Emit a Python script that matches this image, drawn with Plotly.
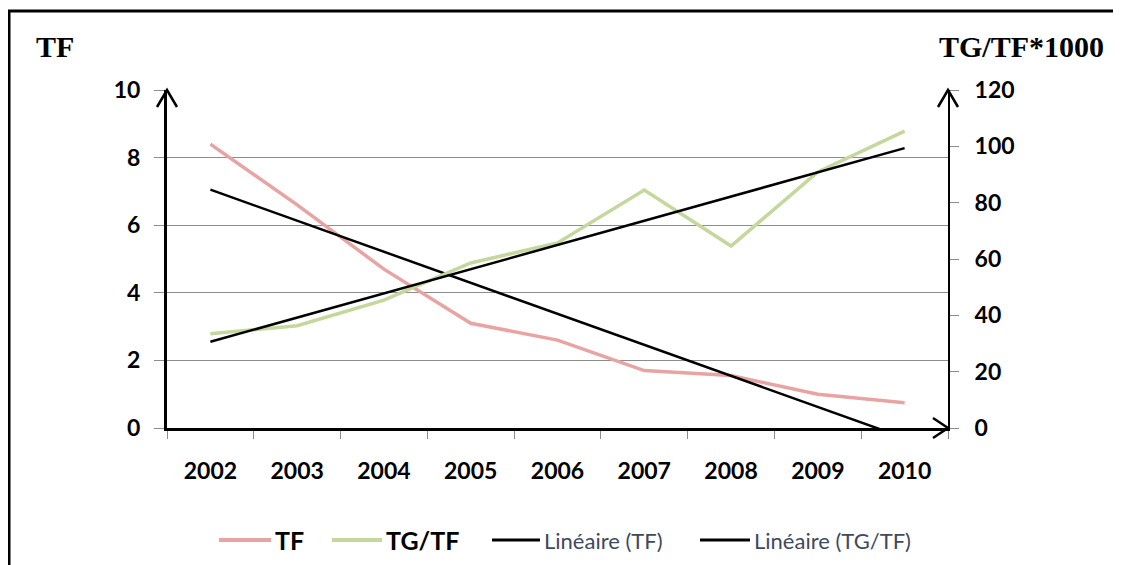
import numpy as np
import plotly.graph_objects as go

years = ["2002", "2003", "2004", "2005", "2006", "2007", "2008", "2009", "2010"]
tf = [8.4, 6.6, 4.7, 3.1, 2.6, 1.7, 1.55, 1.0, 0.75]
tg_tf = [33.5, 36.3, 45.4, 58.6, 65.7, 84.5, 64.6, 90.9, 105.4]
series_names = ["TF", "TG/TF", "Linéaire (TF)", "Linéaire (TG/TF)"]

OFF = 8  # page body margin added by the browser
W, H = 1121 - OFF, 565 - OFF
L, R, T, B = 167, 948, 90, 428  # plot area in screen pixels


def px(x):
    return (x - L) / (R - L)


def py(y):
    return (B - y) / (B - T)


# linear trendlines, as Excel computes them
idx = np.arange(len(years))
k1, c1 = np.polyfit(idx, tf, 1)
k2, c2 = np.polyfit(idx, tg_tf, 1)
trend_tf = k1 * idx + c1
trend_tg = k2 * idx + c2

tick_font = dict(family="Lato", size=23, color="black", weight="bold")
colors = ["#E8A3A3", "#C4D79C", "black", "black"]
widths = [3.5, 3.5, 2.5, 2.5]

fig = go.Figure()
fig.add_trace(go.Scatter(x=years, y=tf, mode="lines", name=series_names[0],
                         line=dict(color=colors[0], width=widths[0])))
fig.add_trace(go.Scatter(x=years, y=tg_tf, mode="lines", yaxis="y2", name=series_names[1],
                         line=dict(color=colors[1], width=widths[1])))
fig.add_trace(go.Scatter(x=years, y=trend_tf, mode="lines", name=series_names[2],
                         line=dict(color=colors[2], width=widths[2])))
fig.add_trace(go.Scatter(x=years, y=trend_tg, mode="lines", yaxis="y2", name=series_names[3],
                         line=dict(color=colors[3], width=widths[3])))

shapes = []
annotations = []
# frame (left and top edges visible)
shapes.append(dict(type="line", xref="paper", yref="paper", x0=px(9), y0=py(11), x1=px(9), y1=py(580),
                   line=dict(color="black", width=3)))
shapes.append(dict(type="line", xref="paper", yref="paper", x0=px(8), y0=py(11), x1=px(1140), y1=py(11),
                   line=dict(color="black", width=3)))
# arrow heads
arrows = [
    [(L - 10, T + 17), (L, T), (L + 10, T + 17)],
    [(R - 10, T + 17), (R, T), (R + 10, T + 17)],
    [(R - 15, B - 10), (R, B), (R - 15, B + 10)],
]
for pts in arrows:
    path = "M {} {} L {} {} L {} {}".format(px(pts[0][0]), py(pts[0][1]), px(pts[1][0]), py(pts[1][1]),
                                           px(pts[2][0]), py(pts[2][1]))
    shapes.append(dict(type="path", xref="paper", yref="paper", path=path,
                       line=dict(color="black", width=2.5)))

# legend, laid out by hand like the Excel one
leg_y = 540
leg_lines = [(219, 271), (332, 382), (492, 540), (700, 750)]
for i, name in enumerate(series_names):
    x0, x1 = leg_lines[i]
    shapes.append(dict(type="line", xref="paper", yref="paper", x0=px(x0), x1=px(x1),
                       y0=py(leg_y), y1=py(leg_y),
                       line=dict(color=colors[i], width=widths[i] + 0.5)))
    if i < 2:
        text, font = "<b>%s</b>" % name, dict(family="Lato", size=25, color="black")
    else:
        text, font = name, dict(family="Lato", size=22, color="#3e4a5c")
    annotations.append(dict(text=text, xref="paper", yref="paper", x=px(x1 + 2), y=py(leg_y),
                            xanchor="left", yanchor="middle", showarrow=False, font=font))

annotations += [
    dict(text="<b>TF</b>", xref="paper", yref="paper", x=px(34), y=py(47), xanchor="left",
         yanchor="middle", showarrow=False,
         font=dict(family="Liberation Serif", size=30, color="black")),
    dict(text="<b>TG/TF*1000</b>", xref="paper", yref="paper", x=px(1106), y=py(47), xanchor="right",
         yanchor="middle", showarrow=False,
         font=dict(family="Liberation Serif", size=30, color="black")),
]

fig.update_layout(
    width=W, height=H, autosize=False,
    margin=dict(l=L - OFF, r=W - (R - OFF), t=T - OFF, b=H - (B - OFF)),
    paper_bgcolor="white", plot_bgcolor="white",
    xaxis=dict(type="category", categoryorder="array", categoryarray=years, range=[-0.5, 8.5],
               tickson="boundaries", ticks="outside", ticklen=8, tickcolor="#8c8c8c",
               showline=True, linecolor="black", linewidth=3, showgrid=False,
               tickfont=tick_font, ticklabelstandoff=20),
    yaxis=dict(range=[0, 10], dtick=2, showgrid=True, gridcolor="#8c8c8c", gridwidth=1,
               zeroline=False, showline=True, linecolor="black", linewidth=3,
               ticks="outside", ticklen=10, tickcolor="#8c8c8c",
               tickfont=tick_font, ticklabelstandoff=9),
    yaxis2=dict(range=[0, 120], dtick=20, overlaying="y", side="right", showgrid=False,
                zeroline=False, showline=True, linecolor="black", linewidth=2,
                ticks="outside", ticklen=9, tickcolor="#8c8c8c",
                tickfont=tick_font, ticklabelstandoff=11),
    shapes=shapes,
    annotations=annotations,
    showlegend=False,
)

fig.write_html("out.html")
